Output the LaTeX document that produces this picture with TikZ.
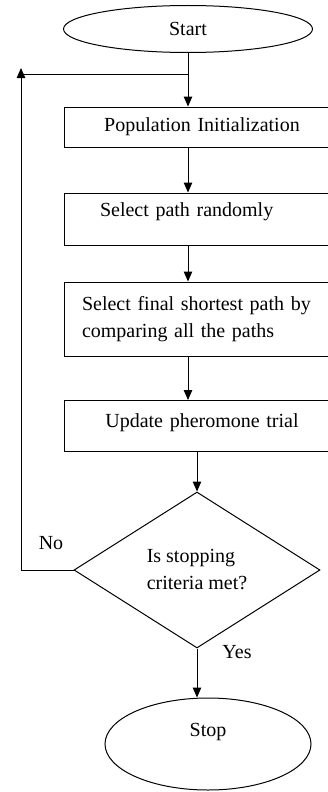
\documentclass[tikz,border=0pt]{standalone}
\usepackage{fontspec}
\setmainfont{Liberation Serif}
\usetikzlibrary{shapes.geometric,arrows.meta}

\begin{document}
\begin{tikzpicture}[x=1pt,y=-1pt,
	line width=1pt,
	font=\fontsize{20}{27}\selectfont,
	arr/.style={-{Triangle[length=10pt,width=8.5pt]}},
	term/.style={draw,ellipse,inner sep=0},
	stepbox/.style={draw,rectangle,minimum width=276pt,inner xsep=18pt,text width=240pt,align=center},
	decision/.style={draw,diamond,inner sep=0,align=left}]
	\useasboundingbox (0,0) rectangle (328,792);
	\clip (0,0) rectangle (328,792);

	\begin{scope} % steps
		\node[term,minimum width=249pt,minimum height=47pt] (start) at (188,29) {Start};
		\node[stepbox,minimum height=40pt] (init) at (202,127) {Population Initialization};
		\node[stepbox,minimum height=52pt,inner xsep=36pt,text width=204pt,align=left,text depth=18pt] (rand) at (202,219) {Select path randomly};
		\node[stepbox,minimum height=74pt,align=left] (best) at (202,319) {Select final shortest path by\\comparing all the paths};
		\node[stepbox,minimum height=51pt,text depth=10pt] (update) at (202,426) {Update pheromone trial};
		\node[decision,minimum width=246pt,minimum height=156pt] (test) at (197,570) {Is stopping\\criteria met?};
		\node[term,minimum width=206pt,minimum height=92pt,text height=14pt,text depth=30pt] (stop) at (208,744) {Stop};
	\end{scope}

	\begin{scope} % arrows
		\draw[arr] (start.south) -- (start.south |- init.north);
		\foreach \a/\b in {init/rand,rand/best,best/update}
			\draw[arr] (\a.south -| start.south) -- (\b.north -| start.south);
		\draw[arr] (update.south -| test.north) -- (test.north);
		\draw[arr] (test.south) -- (stop.north -| test.south);

		% loop back
		\coordinate (back) at (21,68);
		\coordinate (fork) at (188,74);
		\draw[arr] (test.west) -| (back);
		\draw (fork) -- (fork -| back);
	\end{scope}

	\node (no) at (51,543) {No};
	\node (yes) at (237,652) {Yes};
\end{tikzpicture}
\end{document}
